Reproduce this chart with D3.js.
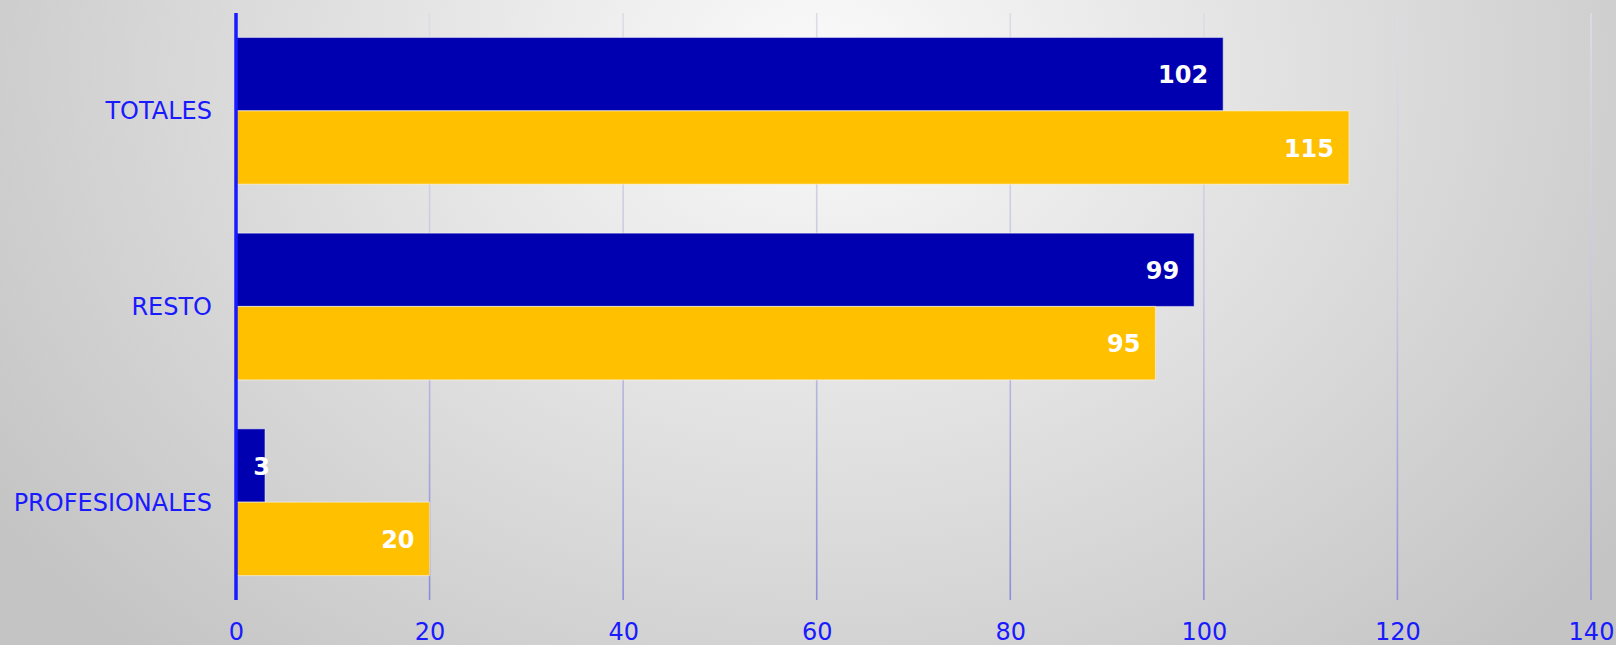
<!DOCTYPE html>
<html>
<head>
<meta charset="utf-8">
<script src="https://cdn.jsdelivr.net/npm/d3@7"></script>
<style>
  body { margin: 0; overflow: hidden; }
  svg { display: block; }
</style>
</head>
<body>
<div id="chart"></div>
<script>
// Chart data
const categories = ["TOTALES", "RESTO", "PROFESIONALES"]
const seriesNames = ["serie1", "serie2"]
const serie1 = [102, 99, 3]
const serie2 = [115, 95, 20]
const xTicks = [0, 20, 40, 60, 80, 100, 120, 140]

const W = 1616, H = 645
const margin = { top: 13, right: 25, bottom: 45, left: 236 }
const width = W - margin.left - margin.right
const height = H - margin.top - margin.bottom

const svg = d3.select("#chart").append("svg")
  .attr("width", W)
  .attr("height", H)

// Background gradient
const defs = svg.append("defs")
const bg = defs.append("radialGradient")
  .attr("id", "bg")
  .attr("gradientUnits", "userSpaceOnUse")
  .attr("cx", 820).attr("cy", 70).attr("r", 1000)
  .attr("gradientTransform", "translate(820,70) scale(1,0.8) translate(-820,-70)")
bg.append("stop").attr("offset", "0%").attr("stop-color", "#fafafa")
bg.append("stop").attr("offset", "45%").attr("stop-color", "#e2e2e2")
bg.append("stop").attr("offset", "100%").attr("stop-color", "#c4c4c4")

const gridGrad = defs.append("linearGradient")
  .attr("id", "gridGrad")
  .attr("gradientUnits", "userSpaceOnUse")
  .attr("x1", 0).attr("y1", margin.top)
  .attr("x2", 0).attr("y2", margin.top + height)
gridGrad.append("stop").attr("offset", "0%").attr("stop-color", "#dcdce4")
gridGrad.append("stop").attr("offset", "45%").attr("stop-color", "#c8c8e0")
gridGrad.append("stop").attr("offset", "100%").attr("stop-color", "#8a8adc")

svg.append("rect")
  .attr("width", W).attr("height", H)
  .attr("fill", "url(#bg)")

const g = svg.append("g")
  .attr("transform", "translate(" + margin.left + "," + margin.top + ")")

// Scales
const x = d3.scaleLinear()
  .domain([0, 140])
  .range([0, width])

const y = d3.scaleBand()
  .domain(categories)
  .range([0, height])
  .paddingInner(0.25)
  .paddingOuter(0.125)

const ySub = d3.scaleBand()
  .domain(seriesNames)
  .range([0, y.bandwidth()])

const colors = { serie1: "#0000b0", serie2: "#ffc000" }

// Vertical gridlines
g.selectAll("line.vertical-grid")
  .data(xTicks.filter(d => d > 0))
  .enter()
  .append("line")
  .attr("class", "vertical-grid")
  .attr("x1", d => x(d))
  .attr("x2", d => x(d))
  .attr("y1", 0)
  .attr("y2", height)
  .style("stroke", "url(#gridGrad)")
  .style("stroke-width", 1.6)

// Bars
const rows = categories.map((c, i) => ({
  cat: c,
  values: [
    { key: "serie1", value: serie1[i] },
    { key: "serie2", value: serie2[i] }
  ]
}))

const groups = g.selectAll(".group")
  .data(rows)
  .enter().append("g")
  .attr("class", "group")
  .attr("transform", d => "translate(0," + y(d.cat) + ")")

groups.selectAll("rect")
  .data(d => d.values)
  .enter().append("rect")
  .attr("x", x(0))
  .attr("y", d => ySub(d.key))
  .attr("width", d => x(d.value) - x(0))
  .attr("height", ySub.bandwidth())
  .attr("fill", d => colors[d.key])
  .style("stroke", "rgba(255,255,255,0.45)")
  .style("stroke-width", 1.2)

// Value labels
groups.selectAll("text")
  .data(d => d.values)
  .enter().append("text")
  .attr("x", d => Math.max(x(d.value) - 15, x(0) + 34))
  .attr("y", d => ySub(d.key) + ySub.bandwidth() / 2)
  .attr("dy", "0.38em")
  .attr("text-anchor", "end")
  .style("font-family", "'DejaVu Sans', Verdana, sans-serif")
  .style("font-weight", "bold")
  .style("font-size", "24px")
  .style("fill", "#ffffff")
  .text(d => d.value)

// Axes
const xAxis = d3.axisBottom(x)
  .tickValues(xTicks)
  .tickSize(0)
  .tickPadding(23)

g.append("g")
  .attr("class", "x axis")
  .attr("transform", "translate(0," + height + ")")
  .call(xAxis)
  .call(a => a.select(".domain").remove())
  .selectAll("text")
  .style("font-family", "'DejaVu Sans', Verdana, sans-serif")
  .style("font-size", "24px")
  .style("fill", "#1a1aff")

const yAxis = d3.axisLeft(y)
  .tickSize(0)
  .tickPadding(24)

g.append("g")
  .attr("class", "y axis")
  .call(yAxis)
  .call(a => a.select(".domain").remove())
  .selectAll("text")
  .attr("dy", "0.35em")
  .style("font-family", "'DejaVu Sans', Verdana, sans-serif")
  .style("font-size", "24px")
  .style("fill", "#1a1aff")

// Vertical axis line
g.append("line")
  .attr("x1", x(0)).attr("x2", x(0))
  .attr("y1", 0).attr("y2", height)
  .style("stroke", "#1a1aff")
  .style("stroke-width", 3.5)
</script>
</body>
</html>
